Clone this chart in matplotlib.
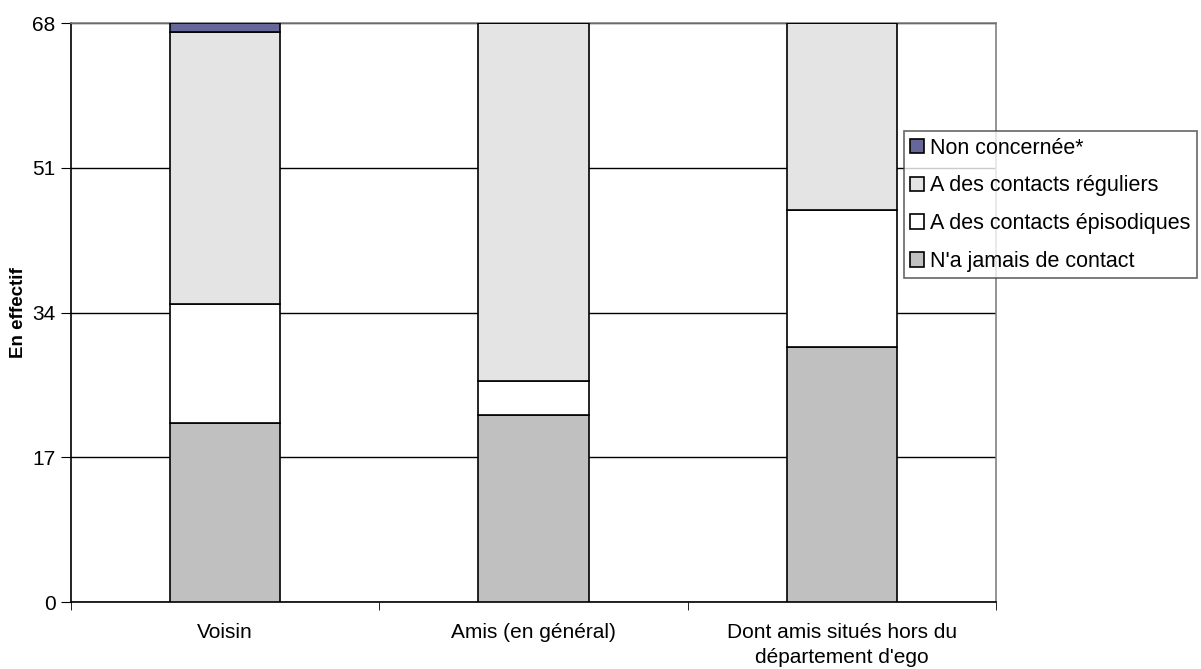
import numpy as np
import matplotlib
matplotlib.use('Agg')
import matplotlib.pyplot as plt

plt.rcParams['font.family'] = ['Liberation Sans', 'DejaVu Sans']

categories = ['Voisin', 'Amis (en général)', "Dont amis situés hors du\ndépartement d'ego"]
jamais = [21, 22, 30]
episodiques = [14, 4, 16]
reguliers = [32, 42, 22]
non_concernee = [1, 0, 0]

series = [
    ("N'a jamais de contact", jamais, '#C0C0C0'),
    ('A des contacts épisodiques', episodiques, '#FFFFFF'),
    ('A des contacts réguliers', reguliers, '#E4E4E4'),
    ('Non concernée*', non_concernee, '#666699'),
]

fig = plt.figure(figsize=(12.01, 6.69), dpi=100)
ax = fig.add_axes([0.0591, 0.1001, 0.7702, 0.8655])

x = np.arange(len(categories))
bottom = np.zeros(len(categories))
handles = []
for label, vals, col in series:
    vals = np.array(vals, dtype=float)
    b = ax.bar(x, vals, width=0.357, bottom=bottom, color=col,
               edgecolor='black', linewidth=1.2, label=label, zorder=3)
    handles.append(b)
    bottom += vals

ax.set_xlim(-0.5, 2.5)
ax.set_ylim(0, 68)
ax.set_yticks([0, 17, 34, 51, 68])
ax.yaxis.grid(True, color='black', linewidth=1, zorder=0)
ax.set_axisbelow(True)

ax.set_xticks(x)
ax.set_xticklabels(categories, fontsize=15, linespacing=1.4)
ax.tick_params(axis='x', length=0, pad=15)
ax.set_xticks([-0.5, 0.5, 1.5, 2.5], minor=True)
ax.tick_params(axis='x', which='minor', length=6, direction='out', color='black')
ax.tick_params(axis='y', length=7, direction='out', labelsize=15, pad=4)

ax.set_ylabel('En effectif', fontsize=13.5, fontweight='bold')
ax.yaxis.set_label_coords(-0.0476, 0.5)

for s in ['top', 'right']:
    ax.spines[s].set_color('#808080')
    ax.spines[s].set_linewidth(1.2)
for s in ['left', 'bottom']:
    ax.spines[s].set_color('black')
    ax.spines[s].set_linewidth(1.2)

leg = fig.legend(handles[::-1], [s[0] for s in series][::-1],
                 loc='upper left', bbox_to_anchor=(0.7527, 0.804),
                 bbox_transform=fig.transFigure, borderaxespad=0,
                 fontsize=15.5, frameon=True, fancybox=False,
                 handlelength=0.65, handleheight=0.65, handletextpad=0.25,
                 labelspacing=0.78, borderpad=0.3)
leg.get_frame().set_edgecolor('#404040')
leg.get_frame().set_linewidth(1.2)

plt.savefig('out.png', dpi=100)
